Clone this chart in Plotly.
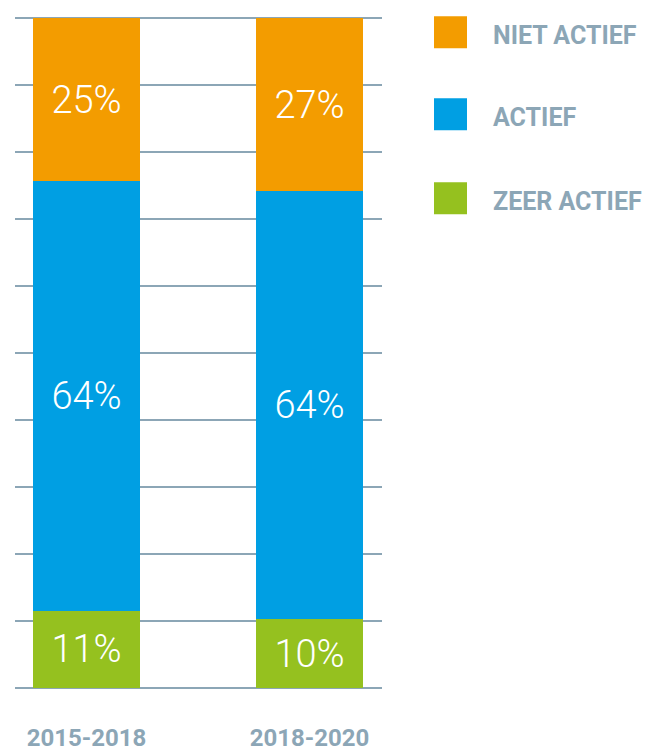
import plotly.graph_objects as go

# ---- data ----
periods = ["2015-2018", "2018-2020"]
series_names = ["ZEER ACTIEF", "ACTIEF", "NIET ACTIEF"]
zeer_actief = [11.5, 10.3]
actief = [64.2, 63.9]
niet_actief = [24.3, 25.8]
zeer_labels = ["11%", "10%"]
actief_labels = ["64%", "64%"]
niet_labels = ["25%", "27%"]

colors = {"ZEER ACTIEF": "#95C11F", "ACTIEF": "#009FE3", "NIET ACTIEF": "#F39C00"}
GRAY = "#8CA6B6"

OFF = 8  # page body margin
W, H = 656 - OFF, 751 - OFF
Y_MAX = 100.5
L, R, B = 15 - OFF, 382 - OFF, 688 - OFF
T100 = 18 - OFF
T = B - (B - T100) * Y_MAX / 100  # plot-area top in px


def px_x(px):
    return (px - OFF - L) / (R - L)


def px_y(py):
    return (B - (py - OFF)) / (B - T)


fig = go.Figure()
for name, vals, labs in [
    ("ZEER ACTIEF", zeer_actief, zeer_labels),
    ("ACTIEF", actief, actief_labels),
    ("NIET ACTIEF", niet_actief, niet_labels),
]:
    fig.add_trace(go.Bar(
        x=periods, y=vals, name=name, text=labs,
        texttemplate="%{text}", textposition="inside", insidetextanchor="middle",
        constraintext="none",
        textfont=dict(family="Roboto", size=38, color="white", weight=300),
        marker=dict(color=colors[name], line=dict(width=0)),
        width=0.48, showlegend=False, hoverinfo="skip",
    ))

# manual legend
legend_rows = [("NIET ACTIEF", 16, 48), ("ACTIEF", 98, 130), ("ZEER ACTIEF", 182, 214)]
for name, y0, y1 in legend_rows:
    fig.add_shape(type="rect", xref="paper", yref="paper",
                  x0=px_x(434), x1=px_x(467), y0=px_y(y1), y1=px_y(y0),
                  fillcolor=colors[name], line=dict(width=0), layer="above")
    fig.add_annotation(xref="paper", yref="paper", x=px_x(491), y=px_y((y0 + y1) / 2 + 3),
                       text=name, showarrow=False, xanchor="left", yanchor="middle",
                       font=dict(family="Roboto", size=25, color=GRAY, weight="bold"))

fig.update_layout(
    barmode="stack",
    width=W, height=H,
    margin=dict(l=L, r=W - R, t=T, b=H - B, pad=0, autoexpand=False),
    paper_bgcolor="white", plot_bgcolor="white",
    xaxis=dict(range=[-0.321, 1.325], showgrid=False, zeroline=False, showline=False,
               ticks="", ticklabelstandoff=33, automargin=False,
               tickfont=dict(family="Roboto", size=24, color=GRAY, weight="bold")),
    yaxis=dict(range=[0, Y_MAX], dtick=10, showgrid=True, gridcolor=GRAY, gridwidth=2,
               zeroline=True, zerolinecolor=GRAY, zerolinewidth=2, automargin=False,
               showticklabels=False, ticks="", showline=False),
)

fig.write_html("out.html")
